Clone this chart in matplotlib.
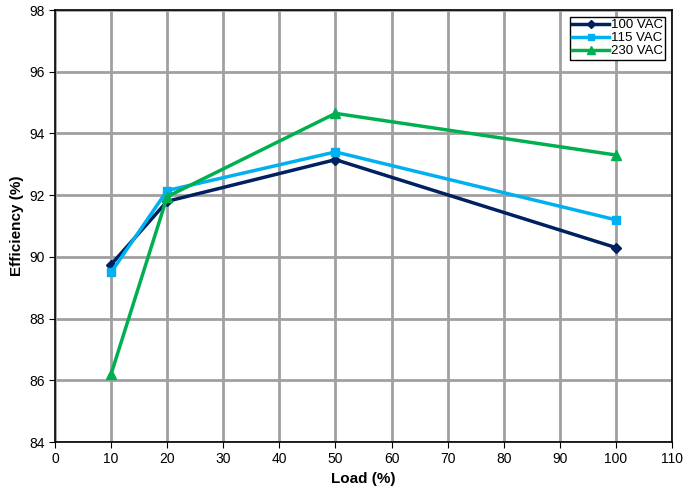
import matplotlib.pyplot as plt

# Data
load = [10, 20, 50, 100]
eff_100vac = [89.75, 91.8, 93.15, 90.3]
eff_115vac = [89.5, 92.15, 93.4, 91.2]
eff_230vac = [86.2, 91.95, 94.65, 93.3]

plt.rcParams['font.family'] = ['Liberation Sans', 'DejaVu Sans']

fig = plt.figure(figsize=(6.83, 4.95), dpi=100)
ax = fig.add_axes([55 / 683, 53 / 495, 617 / 683, 432 / 495])

ax.plot(load, eff_100vac, color='#002060', linewidth=2.5, marker='D', markersize=5, label='100 VAC')
ax.plot(load, eff_115vac, color='#00b0f0', linewidth=2.5, marker='s', markersize=6, label='115 VAC')
ax.plot(load, eff_230vac, color='#00b050', linewidth=2.5, marker='^', markersize=7, label='230 VAC')

ax.set_xlim(0, 110)
ax.set_ylim(84, 98)
ax.set_xticks(range(0, 111, 10))
ax.set_yticks(range(84, 99, 2))
ax.grid(True, color='#a0a0a0', linewidth=2)
ax.set_axisbelow(True)
for s in ax.spines.values():
    s.set_color('black')
    s.set_linewidth(1.2)
ax.tick_params(labelsize=10, length=4)

ax.set_xlabel('Load (%)', fontsize=11, fontweight='bold')
ax.set_ylabel('Efficiency (%)', fontsize=11, fontweight='bold')

leg = ax.legend(loc='upper right', fontsize=9.5, frameon=True, fancybox=False,
                borderpad=0.2, handlelength=2.8, handletextpad=0.1, labelspacing=0.05,
                markerscale=0.8)
leg.get_frame().set_edgecolor('black')
leg.get_frame().set_alpha(1)

fig.savefig('out.png', dpi=100)
